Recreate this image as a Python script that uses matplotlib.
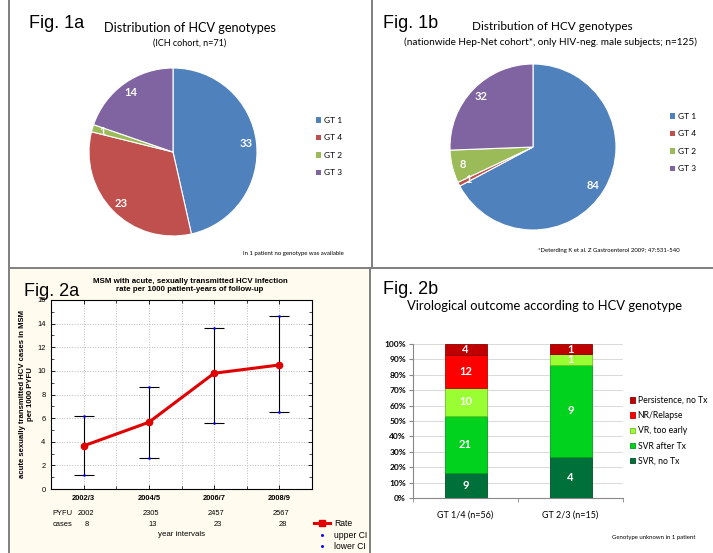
import numpy as np
import matplotlib
matplotlib.use("Agg")
from matplotlib import pyplot as plt
from matplotlib.lines import Line2D
from matplotlib.patches import Rectangle, Patch

plt.rcParams['font.family'] = ['Lato', 'DejaVu Sans']

W, H = 713, 553

# Fig. 1a / 1b : genotype distribution
gt_labels = ["GT 1", "GT 4", "GT 2", "GT 3"]
ich_counts = [33, 23, 1, 14]
hepnet_counts = [84, 1, 8, 32]
gt_colors = ["#4F81BD", "#C0504D", "#9BBB59", "#8064A2"]

# Fig. 2a : incidence rate per 1000 PYFU
intervals = ["2002/3", "2004/5", "2006/7", "2008/9"]
rate = [3.65, 5.65, 9.8, 10.5]
upper_ci = [6.15, 8.65, 13.65, 14.65]
lower_ci = [1.15, 2.6, 5.55, 6.5]
pyfu = [2002, 2305, 2457, 2567]
cases = [8, 13, 23, 28]

# Fig. 2b : virological outcome
groups = ["GT 1/4 (n=56)", "GT 2/3 (n=15)"]
outcomes = ["SVR, no Tx", "SVR after Tx", "VR, too early", "NR/Relapse", "Persistence, no Tx"]
svr_no_tx = [9, 4]
svr_after_tx = [21, 9]
vr_too_early = [10, 1]
nr_relapse = [12, 0]
persistence = [4, 1]
outcome_colors = ["#00703A", "#00D21E", "#99FF33", "#FF0000", "#C00000"]
outcome_edges = ["#005028", "#00A018", "#70C020", "#C00000", "#900000"]


def box(x0, y0, x1, y1):
    # pixel box (top-left origin) -> figure fraction rect
    return [x0 / W, 1 - y1 / H, (x1 - x0) / W, (y1 - y0) / H]


def ftext(x, y, s, **kw):
    fig.text(x / W, 1 - y / H, s, **kw)


fig = plt.figure(figsize=(W / 100, H / 100), dpi=100)
fig.patch.set_facecolor("white")

# cream background of Fig. 2a
fig.add_artist(Rectangle((10 / W, 0), (369 - 10) / W, (553 - 269) / H,
                         transform=fig.transFigure, facecolor="#FFFCEF",
                         edgecolor="none", zorder=-5))

# panel separators
lc = "#7f7f7f"
fig.add_artist(Line2D([9 / W, 9 / W], [0, 1], color=lc, lw=1.4))
fig.add_artist(Line2D([9 / W, 1], [1 - 268 / H] * 2, color=lc, lw=1.4))
fig.add_artist(Line2D([371.5 / W] * 2, [1, 1 - 268 / H], color=lc, lw=1.4))
fig.add_artist(Line2D([370 / W] * 2, [1 - 268 / H, 0], color=lc, lw=1.4))


def draw_pie(rect, counts):
    ax = fig.add_axes(rect)
    total = sum(counts)
    wedges, _, autotexts = ax.pie(
        counts, colors=gt_colors, startangle=90, counterclock=False,
        autopct=lambda p: "%d" % round(p * total / 100.0), pctdistance=0.87,
        wedgeprops=dict(edgecolor="white", linewidth=0.8),
        textprops=dict(color="white", fontweight="bold", fontsize=8))
    ax.set_xlim(-1, 1)
    ax.set_ylim(-1, 1)
    return ax, autotexts


# ---- Fig. 1a
ftext(29, 23, "Fig. 1a", fontsize=13, family="Liberation Sans", va="center")
ftext(190, 28, "Distribution of HCV genotypes", fontsize=9.1, ha="center", va="center")
ftext(190, 43, "(ICH cohort, n=71)", fontsize=6.5, ha="center", va="center")
draw_pie(box(89, 68, 257, 236), ich_counts)
fig.legend(handles=[Patch(facecolor=c, edgecolor="none") for c in gt_colors],
           labels=gt_labels, loc="upper left", bbox_to_anchor=(316 / W, 1 - 117 / H),
           frameon=False, fontsize=6, handlelength=0.6, handleheight=0.6,
           handletextpad=0.4, labelspacing=1.25, borderpad=0, borderaxespad=0)
ftext(243, 253, "In 1 patient no genotype was available", fontsize=4.3, va="center")

# ---- Fig. 1b
ftext(383, 23, "Fig. 1b", fontsize=13, family="Liberation Sans", va="center")
ftext(552, 27, "Distribution of HCV genotypes", fontsize=8.5, ha="center", va="center")
ftext(550, 42, "(nationwide Hep-Net cohort*, only HIV-neg. male subjects; n=125)",
      fontsize=7.2, ha="center", va="center")
ax1b, at1b = draw_pie(box(450, 64, 616, 230), hepnet_counts)
at1b[0].set_position((0.72, -0.46))
fig.legend(handles=[Patch(facecolor=c, edgecolor="none") for c in gt_colors],
           labels=gt_labels, loc="upper left", bbox_to_anchor=(670 / W, 1 - 113 / H),
           frameon=False, fontsize=6, handlelength=0.6, handleheight=0.6,
           handletextpad=0.4, labelspacing=1.25, borderpad=0, borderaxespad=0)
ftext(538, 251, "*Deterding K et al. Z Gastroenterol 2009; 47:531-540", fontsize=4.3, va="center")

# ---- Fig. 2a
fs2a = 5.4
ax = fig.add_axes(box(51, 300, 312, 489))
x = np.arange(len(intervals))
r = np.array(rate)
ax.errorbar(x, r, yerr=[r - np.array(lower_ci), np.array(upper_ci) - r], fmt="none",
            ecolor="black", elinewidth=0.8, capsize=7, capthick=0.8, zorder=3)
ax.plot(x, upper_ci, ls="none", marker="s", ms=0.8, color="blue", zorder=4)
ax.plot(x, lower_ci, ls="none", marker="s", ms=0.8, color="blue", zorder=4)
ax.plot(x, rate, color="#E00000", lw=2.2, marker="o", ms=4.5, zorder=5)
ax.set_xlim(-0.5, 3.5)
ax.set_ylim(0, 16)
ax.set_yticks(np.arange(0, 17, 2))
ax.set_yticks(np.arange(0, 17, 1), minor=True)
ax.set_xticks(x)
ax.set_xticks(np.arange(-0.5, 3.6, 0.5), minor=True)
ax.set_xticklabels(intervals, fontweight="bold", fontsize=fs2a, family="Liberation Sans")
for t in ax.get_yticklabels():
    t.set_fontsize(fs2a)
    t.set_family("Liberation Sans")
ax.tick_params(direction="in", top=True, right=True, length=3, width=0.6, pad=4)
ax.tick_params(which="minor", direction="in", top=True, right=True, length=2, width=0.5)
ax.grid(True, which="both", axis="x", color="#bbbbbb", ls=":", lw=0.7)
ax.grid(True, which="major", axis="y", color="#bbbbbb", ls=":", lw=0.7)
for s in ax.spines.values():
    s.set_linewidth(0.8)
ax.set_ylabel("acute sexually transmitted HCV cases in MSM\nper 1000 PYFU",
              fontweight="bold", fontsize=5.6, family="Liberation Sans", linespacing=1.3)
ax.yaxis.set_label_coords(-0.065, 0.5)

ftext(190, 285.5, "MSM with acute, sexually transmitted HCV infection\nrate per 1000 patient-years of follow-up",
      fontsize=5.7, fontweight="bold", family="Liberation Sans", ha="center", va="center",
      linespacing=1.35)
ftext(24, 291, "Fig. 2a", fontsize=13, family="Liberation Sans", va="center", zorder=10)

xt = ax.get_xaxis_transform()
ax.text(-0.48, -0.13, "PYFU", transform=xt, fontsize=fs2a, family="Liberation Sans",
        va="center", clip_on=False)
ax.text(-0.48, -0.19, "cases", transform=xt, fontsize=fs2a, family="Liberation Sans",
        va="center", clip_on=False)
for xi, p, c in zip(x, pyfu, cases):
    ax.text(xi + 0.03, -0.13, str(p), transform=xt, fontsize=fs2a, family="Liberation Sans",
            ha="center", va="center", clip_on=False)
    ax.text(xi + 0.05, -0.19, str(c), transform=xt, fontsize=fs2a, family="Liberation Sans",
            ha="center", va="center", clip_on=False)
ax.text(1.5, -0.24, "year intervals", transform=xt, fontsize=5.7, family="Liberation Sans",
        ha="center", va="center", clip_on=False)

leg_handles = [Line2D([], [], color="#E00000", lw=2.2, marker="s", ms=4),
               Line2D([], [], ls="none", marker="s", ms=1.0, color="blue"),
               Line2D([], [], ls="none", marker="s", ms=1.0, color="blue")]
fig.legend(handles=leg_handles, labels=["Rate", "upper CI", "lower CI"],
           loc="upper left", bbox_to_anchor=(314 / W, 1 - 519 / H), frameon=False,
           prop=dict(family="Liberation Sans", size=6.2), handlelength=1.9,
           handletextpad=0.4, labelspacing=0.3, borderpad=0, borderaxespad=0)

# ---- Fig. 2b
ftext(383, 289, "Fig. 2b", fontsize=13, family="Liberation Sans", va="center")
ftext(407, 306, "Virological outcome according to HCV genotype", fontsize=9.35, va="center")
ax = fig.add_axes(box(413, 344, 623, 498))
gx = np.arange(len(groups))
series = [svr_no_tx, svr_after_tx, vr_too_early, nr_relapse, persistence]
totals = np.sum(series, axis=0)
bottom = np.zeros(len(groups))
bars = []
for vals, col, ec, name in zip(series, outcome_colors, outcome_edges, outcomes):
    pct = np.array(vals) / totals * 100
    b = ax.bar(gx, pct, 0.4, bottom=bottom, color=col, edgecolor=ec, lw=0.6,
               label=name, zorder=3)
    bars.append(b)
    for xi, v, p, b0 in zip(gx, vals, pct, bottom):
        if v > 0:
            ax.text(xi, b0 + p / 2, str(v), color="white", fontweight="bold",
                    fontsize=8, ha="center", va="center", zorder=4)
    bottom = bottom + pct
ax.set_xlim(-0.5, 1.5)
ax.set_ylim(0, 100)
ax.set_yticks(np.arange(0, 101, 10))
ax.set_yticklabels(["%d%%" % v for v in range(0, 101, 10)], fontsize=6, fontweight="bold")
ax.set_xticks(gx)
ax.set_xticklabels(groups, fontsize=6.5)
ax.set_xticks([-0.5, 0.5, 1.5], minor=True)
ax.tick_params(axis="x", which="major", length=0, pad=9)
ax.tick_params(axis="x", which="minor", length=3, color="#888888")
ax.tick_params(axis="y", length=3, color="#888888", pad=2)
ax.grid(True, axis="y", color="#d9d9d9", lw=0.7)
ax.set_axisbelow(True)
for s in ["top", "right"]:
    ax.spines[s].set_visible(False)
for s in ["left", "bottom"]:
    ax.spines[s].set_color("#888888")
    ax.spines[s].set_linewidth(0.8)
fig.legend(handles=[b[0] for b in bars[::-1]], labels=outcomes[::-1],
           loc="upper left", bbox_to_anchor=(630 / W, 1 - 396 / H), frameon=False,
           fontsize=6.2, handlelength=0.6, handleheight=0.6, handletextpad=0.3,
           labelspacing=0.72, borderpad=0, borderaxespad=0)
ftext(612, 537, "Genotype unknown in 1 patient", fontsize=4.3, va="center")

fig.savefig("out.png", dpi=100)
